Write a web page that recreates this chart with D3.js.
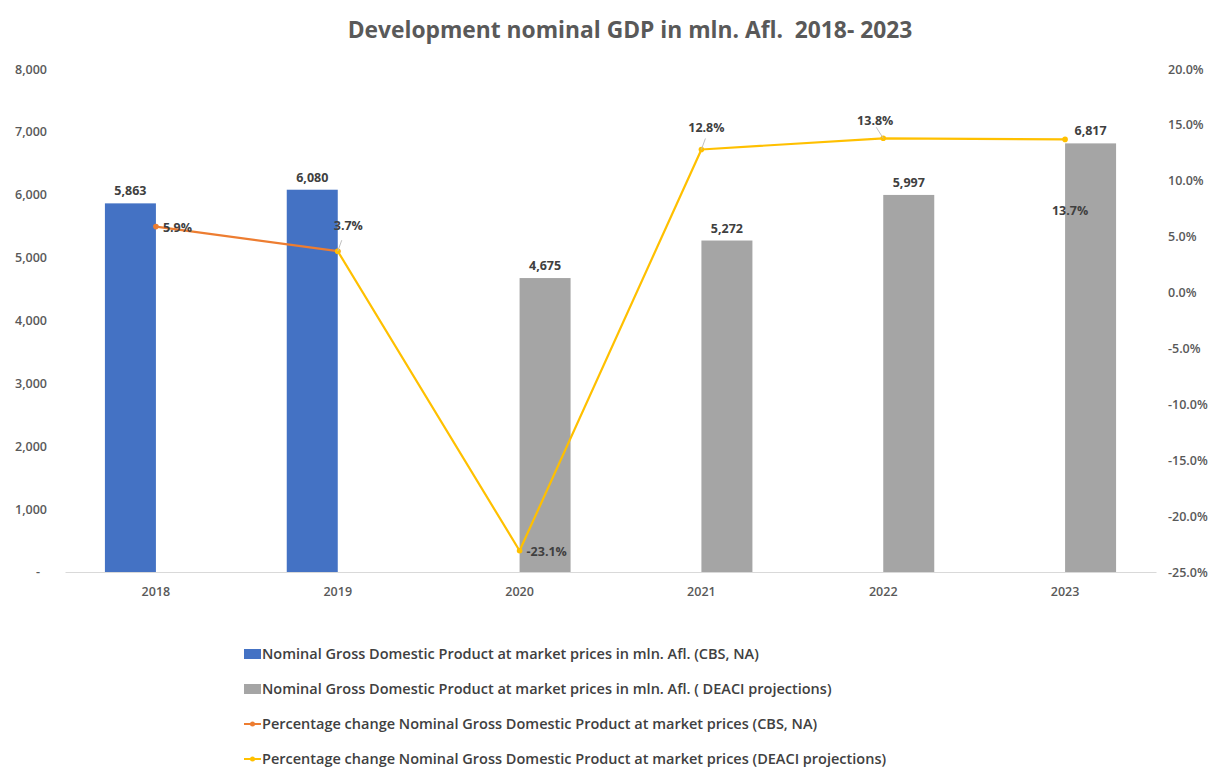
<!DOCTYPE html>
<html>
<head>
<meta charset="utf-8">
<script src="https://cdn.jsdelivr.net/npm/d3@7"></script>
<style>
  body { margin: 0; background: #fff; }
  text { font-family: "Open Sans", sans-serif; }
</style>
</head>
<body>
<div id="chart"></div>
<script>
const width = 1216;
const height = 767;

// data
const years = ["2018", "2019", "2020", "2021", "2022", "2023"];
const gdpCBS = [5863, 6080, null, null, null, null];
const gdpDEACI = [null, null, 4675, 5272, 5997, 6817];
const pctCBS = [5.9, 3.7, null, null, null, null];
const pctDEACI = [null, 3.7, -23.1, 12.8, 13.8, 13.7];
const leftTicks = [0, 1000, 2000, 3000, 4000, 5000, 6000, 7000, 8000];
const rightTicks = [-25, -20, -15, -10, -5, 0, 5, 10, 15, 20];
const legendLabels = [
  "Nominal Gross Domestic Product at market prices in mln. Afl. (CBS, NA)",
  "Nominal Gross Domestic Product at market prices in mln. Afl. ( DEACI projections)",
  "Percentage change Nominal Gross Domestic Product at market prices (CBS, NA)",
  "Percentage change Nominal Gross Domestic Product at market prices (DEACI projections)"
];

const blue = "#4472C4", grey = "#A5A5A5", orange = "#ED7D31", yellow = "#FFC000";
const textCol = "#595959", labelCol = "#404040";

// hyphen instead of unicode minus, like the original
const loc = d3.formatLocale({ decimal: ".", thousands: ",", grouping: [3], currency: ["", ""], minus: "-" });
const fmtNum = loc.format(",");
const fmtPct = v => loc.format(".1f")(v) + "%";

const plot = { left: 65, right: 1156, top: 69, bottom: 572 };

const svg = d3.select("#chart").append("svg")
  .attr("width", width).attr("height", height);

// scales
const x = d3.scaleBand().domain(years).range([plot.left, plot.right]);
const xSub = d3.scaleBand().domain(["cbs", "deaci"])
  .range([x.bandwidth() / 2 - 51, x.bandwidth() / 2 + 51]);
const yL = d3.scaleLinear().domain([0, 8000]).range([plot.bottom, plot.top]);
const yR = d3.scaleLinear().domain([-25, 20]).range([plot.bottom, plot.top]);
const cx = d => x(d) + x.bandwidth() / 2;

// title
svg.append("text")
  .attr("x", 630).attr("y", 38)
  .attr("text-anchor", "middle")
  .attr("fill", textCol)
  .style("font-size", "22.8px").style("font-weight", "700")
  .style("white-space", "pre")
  .text("Development nominal GDP in mln. Afl.  2018- 2023");

// left axis
const axL = svg.append("g")
  .attr("transform", `translate(${plot.left - 18},0)`)
  .call(d3.axisLeft(yL).tickValues(leftTicks).tickSize(0).tickPadding(0)
    .tickFormat(d => d === 0 ? "" : fmtNum(d)));
axL.select(".domain").remove();
axL.selectAll("text").attr("fill", textCol)
  .style("font-size", "12.5px").style("font-weight", "600");
svg.append("text")
  .attr("x", 38).attr("y", yL(0) + 4)
  .attr("text-anchor", "middle").attr("fill", textCol)
  .style("font-size", "12.5px").style("font-weight", "600")
  .text("-");

// right axis
const axR = svg.append("g")
  .attr("transform", `translate(${plot.right + 12},0)`)
  .call(d3.axisRight(yR).tickValues(rightTicks).tickSize(0).tickPadding(0)
    .tickFormat(fmtPct));
axR.select(".domain").remove();
axR.selectAll("text").attr("fill", textCol)
  .style("font-size", "12.5px").style("font-weight", "600");

// x axis
const axX = svg.append("g")
  .attr("transform", `translate(0,${plot.bottom})`)
  .call(d3.axisBottom(x).tickSize(0).tickPadding(15));
axX.select(".domain").attr("stroke", "#d9d9d9");
axX.selectAll("text").attr("fill", textCol)
  .style("font-size", "12.5px").style("font-weight", "600");

// bars
function drawBars(values, key, color) {
  const data = years.map((y, i) => ({ year: y, v: values[i] })).filter(d => d.v != null);
  svg.append("g").selectAll("rect").data(data).join("rect")
    .attr("x", d => x(d.year) + xSub(key))
    .attr("width", xSub.bandwidth())
    .attr("y", d => yL(d.v))
    .attr("height", d => yL(0) - yL(d.v))
    .attr("fill", color);
  svg.append("g").selectAll("text").data(data).join("text")
    .attr("x", d => x(d.year) + xSub(key) + xSub.bandwidth() / 2)
    .attr("y", d => yL(d.v) - 8)
    .attr("text-anchor", "middle")
    .attr("fill", labelCol)
    .style("font-size", "12.5px").style("font-weight", "700")
    .text(d => fmtNum(d.v));
}
drawBars(gdpCBS, "cbs", blue);
drawBars(gdpDEACI, "deaci", grey);

// lines
function drawLine(values, color) {
  const data = years.map((y, i) => ({ year: y, v: values[i] })).filter(d => d.v != null);
  svg.append("path").datum(data)
    .attr("fill", "none").attr("stroke", color).attr("stroke-width", 2.2)
    .attr("stroke-linejoin", "round")
    .attr("d", d3.line().x(d => cx(d.year)).y(d => yR(d.v)));
  svg.append("g").selectAll("circle").data(data).join("circle")
    .attr("cx", d => cx(d.year)).attr("cy", d => yR(d.v))
    .attr("r", 2.8).attr("fill", color);
}
drawLine(pctCBS, orange);
drawLine(pctDEACI, yellow);

// percentage labels (offsets mimic the manual label placement)
const pctLabels = [
  { year: "2018", v: 5.9, dx: 7, dy: 5, anchor: "start", leader: false },
  { year: "2019", v: 3.7, dx: -4, dy: -21, anchor: "start", leader: true },
  { year: "2020", v: -23.1, dx: 7, dy: 5, anchor: "start", leader: false },
  { year: "2021", v: 12.8, dx: 5, dy: -17, anchor: "middle", leader: true },
  { year: "2022", v: 13.8, dx: -8, dy: -13, anchor: "middle", leader: true },
  { year: "2023", v: 13.7, dx: 5, dy: 76, anchor: "middle", leader: false }
];
pctLabels.forEach(l => {
  const px = cx(l.year), py = yR(l.v);
  if (l.leader) {
    svg.append("line")
      .attr("x1", px).attr("y1", py)
      .attr("x2", px + (l.year === "2022" ? -7 : 4)).attr("y2", py - 11)
      .attr("stroke", "#bfbfbf").attr("stroke-width", 1);
  }
  svg.append("text")
    .attr("x", px + l.dx).attr("y", py + l.dy)
    .attr("text-anchor", l.anchor)
    .attr("fill", labelCol)
    .style("font-size", "12.5px").style("font-weight", "700")
    .text(fmtPct(l.v));
});

// legend
const legend = svg.append("g").attr("transform", "translate(244,0)");
const legendRows = legendLabels.map((t, i) => ({ t, i, y: 654 + i * 35 }));
legendRows.forEach(r => {
  const color = [blue, grey, orange, yellow][r.i];
  if (r.i < 2) {
    legend.append("rect").attr("x", 0).attr("y", r.y - 5)
      .attr("width", 17).attr("height", 10).attr("fill", color);
  } else {
    legend.append("line").attr("x1", 0).attr("x2", 17)
      .attr("y1", r.y).attr("y2", r.y)
      .attr("stroke", color).attr("stroke-width", 2);
    legend.append("circle").attr("cx", 8.5).attr("cy", r.y).attr("r", 2.5).attr("fill", color);
  }
  legend.append("text")
    .attr("x", 18).attr("y", r.y + 5)
    .attr("fill", labelCol)
    .style("font-size", "14.5px").style("font-weight", "600")
    .text(r.t);
});
</script>
</body>
</html>
